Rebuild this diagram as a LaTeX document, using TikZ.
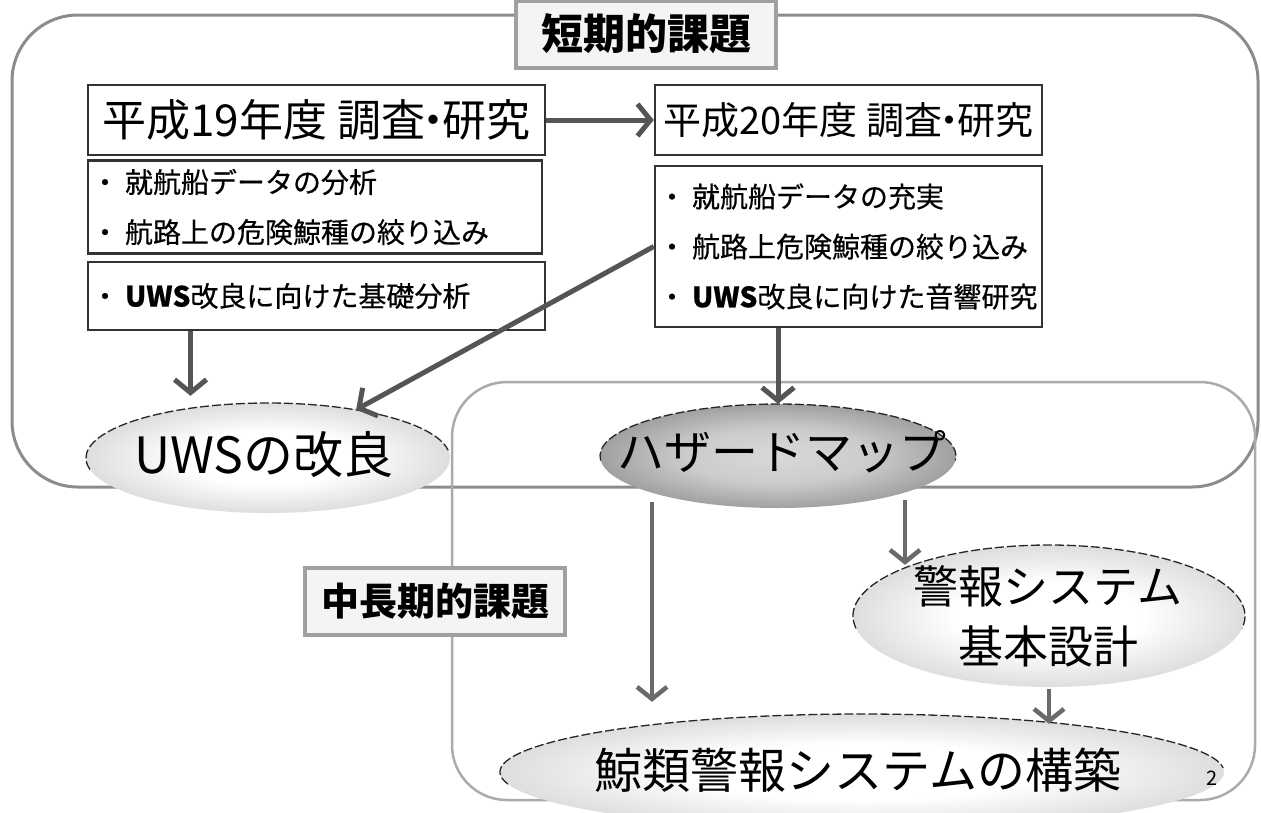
\documentclass[tikz,border=0pt]{standalone}
\usepackage{fontspec}
\setmainfont{Noto Sans CJK JP}
\newfontfamily\jp{Noto Sans CJK JP}
\newfontfamily\jpm[FakeBold=0.5]{Noto Sans CJK JP}
\usetikzlibrary{arrows.meta,shapes.geometric}
\definecolor{arrc}{HTML}{555555}
\definecolor{arrlc}{HTML}{6A6A6A}
\definecolor{framec}{HTML}{8C8C8C}
\definecolor{framelc}{HTML}{ABABAB}
\definecolor{tagfill}{HTML}{F4F4F4}
\definecolor{tagdraw}{HTML}{A0A0A0}
\pgfdeclareradialshading{softgray}{\pgfpoint{0bp}{0bp}}{color(0bp)=(white); color(12bp)=(white); color(25bp)=(black!13); color(35bp)=(black!36); color(50bp)=(black!36)}
\pgfdeclareradialshading{hazgray}{\pgfpoint{0bp}{0bp}}{color(0bp)=(black!15); color(13bp)=(black!20); color(27bp)=(black!40); color(35bp)=(black!60); color(50bp)=(black!60)}
\newcommand{\mdot}{\kern-0.3em・\kern-0.3em}
\begin{document}
\begin{tikzpicture}[x=1pt,y=-1pt,
  bigframe/.style={draw=framec, line width=3pt, rounded corners=66pt},
  midframe/.style={draw=framelc, line width=2.5pt, rounded corners=55pt},
  tagbox/.style={draw=tagdraw, line width=4pt, fill=tagfill, minimum width=260pt, minimum height=67pt, inner sep=0pt},
  headbox/.style={draw=black!80, line width=2.5pt, fill=white, minimum width=#1, minimum height=70pt, inner sep=0pt},
  listbox/.style={draw=black!80, line width=2.5pt, fill=white, inner sep=0pt, align=left, font=\jpm\fontsize{28}{50}\selectfont},
  ell/.style={ellipse, inner sep=0pt},
  rim/.style={draw=black!85, line width=1.3pt, dash pattern=on 9pt off 3pt},
  arr/.style={draw=arrc, line width=5pt, -{Straight Barb[length=13pt,width=32pt]}},
  arrl/.style={draw=arrlc, line width=4.5pt, -{Straight Barb[length=12pt,width=30pt]}},
  bigtxt/.style={font=\jp\fontsize{#1}{#1}\selectfont, align=center}
]
\useasboundingbox (0,0) rectangle (1261,812);
\fill[white] (0,0) rectangle (1261,812);

% frames
\draw[bigframe] (12,15) rectangle (1258,487);
\draw[midframe] (452,382) rectangle (1255,800);

% tags
\node[tagbox, font=\jp\bfseries\fontsize{42}{50}\selectfont] (short) at (646,34) {短期的課題};
\node[tagbox, font=\jp\bfseries\fontsize{38}{46}\selectfont] (mid) at (435,601) {中長期的課題};

% heading boxes
\node[headbox=457pt, font=\jp\fontsize{44}{50}\selectfont] (h19) at (316.5,120) {平成19年度 調査\mdot 研究};
\node[headbox=387pt, font=\jp\fontsize{38}{50}\selectfont] (h20) at (848.5,120) {平成20年度 調査\mdot 研究};

% list boxes
\node[listbox, minimum width=454pt, minimum height=93pt, text width=448pt] (l19) at (315,207)
  {・\hspace{6pt}就航船データの分析\\・\hspace{6pt}航路上の危険鯨種の絞り込み};
\node[listbox, minimum width=457pt, minimum height=68pt, text width=451pt] (u19) at (316.5,296)
  {・\hspace{6pt}\textbf{UWS}改良に向けた基礎分析};
\node[listbox, minimum width=387pt, minimum height=161pt, text width=381pt] (l20) at (848.5,246.5)
  {・\hspace{6pt}就航船データの充実\\・\hspace{6pt}航路上危険鯨種の絞り込み\\・\hspace{6pt}\textbf{UWS}改良に向けた音響研究};

% ellipses
\node[ell, minimum width=364pt, minimum height=110pt, shading=softgray] (uwsE) at (268,458) {};
\draw[rim] (uwsE.center) ++(168:182 and 55) arc[start angle=168, end angle=352, x radius=182, y radius=55];
\node[bigtxt=50] (uwsT) at (264,455) {UWSの改良};

\node[ell, minimum width=356pt, minimum height=104pt, shading=hazgray] (haz) at (778,456) {};
\draw[rim] (haz.center) ++(175:178 and 52) arc[start angle=175, end angle=365, x radius=178, y radius=52];
\node[bigtxt=47] (hazT) at (782,452) {ハザードマップ};

\node[ell, minimum width=392pt, minimum height=142pt, shading=softgray] (alm) at (1049,616) {};
\draw[rim] (alm.center) ++(170:196 and 71) arc[start angle=170, end angle=370, x radius=196, y radius=71];
\node[bigtxt=45] (almT1) at (1048,586) {警報システム};
\node[bigtxt=45] (almT2) at (1048,646) {基本設計};

\node[ell, minimum width=724pt, minimum height=116pt, shading=softgray] (whale) at (862,772) {};
\draw[rim] (whale.center) ++(168:362 and 58) arc[start angle=168, end angle=356, x radius=362, y radius=58];
\node[bigtxt=48] (whaleT) at (858,770) {鯨類警報システムの構築};
\node[font=\jp\fontsize{20}{24}\selectfont] (pg) at (1212,778) {2};

% connectors
\draw[arr] (h19.east) -- (h20.west);
\draw[arr] ([xshift=-126pt]u19.south) -- ([xshift=-126pt,yshift=7pt]u19.south |- uwsE.north);
\draw[arr] (l20.west) -- (uwsE);
\draw[arr] (haz.north |- l20.south) -- (haz.north);
\draw[arrl] ([xshift=-126pt,yshift=6pt]haz.south) -- ([xshift=-126pt,yshift=12pt]haz.south |- whale.north);
\draw[arrl] ([xshift=127pt,yshift=8pt]haz.south) -- ([xshift=-144pt,yshift=-20pt]alm.north);
\draw[arrl] ([yshift=-2pt]alm.south) -- ([yshift=-10pt]alm.south |- whale.north);
\end{tikzpicture}
\end{document}
